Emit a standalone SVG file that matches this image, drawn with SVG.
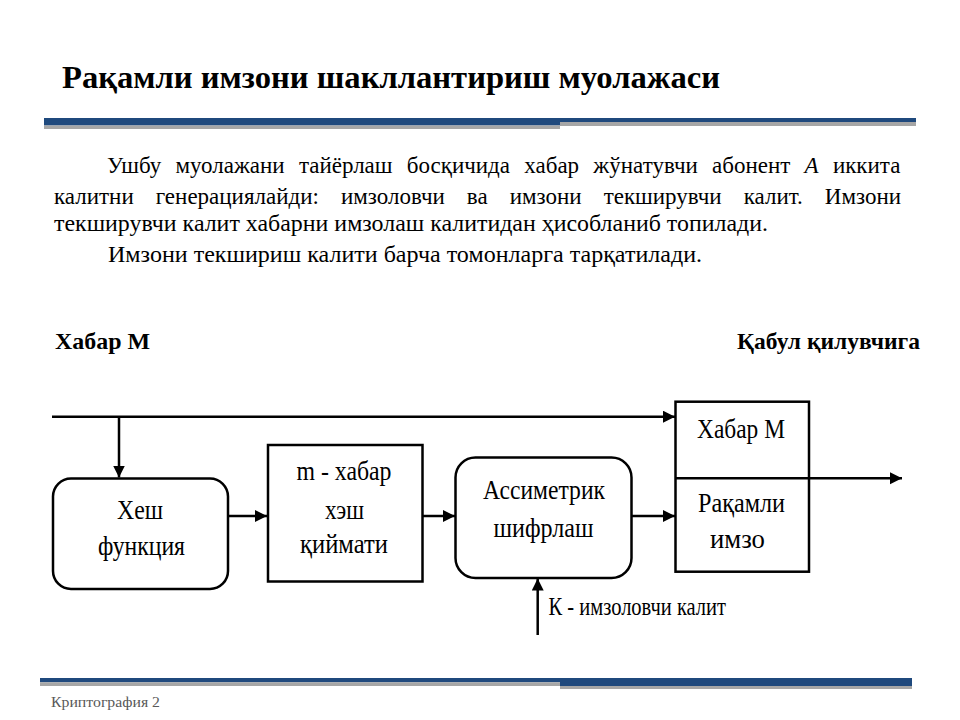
<svg xmlns="http://www.w3.org/2000/svg" width="960" height="720" viewBox="0 0 960 720" font-family="Liberation Serif, Times New Roman, DejaVu Serif, serif">
<defs>
<style>
text{font-family:'Liberation Serif','Times New Roman','DejaVu Serif',serif;fill:#000}
.b{font-weight:bold}
.p{font-size:23px}
.d{font-size:28px}
.ln{fill:none;stroke:#000;stroke-width:2.5}
.bx{fill:#fff;stroke:#000;stroke-width:2.5}
</style>
<marker id="arr" markerUnits="userSpaceOnUse" markerWidth="13" markerHeight="13" refX="12" refY="6" orient="auto">
<path d="M0,0 L12,6 L0,12 z" fill="#000"/>
</marker>
</defs>
<rect width="960" height="720" fill="#fff"/>
<g id="header">
<text class="b" x="62" y="88" font-size="32" textLength="658" lengthAdjust="spacingAndGlyphs">Рақамли имзони шакллантириш муолажаси</text>
<rect x="44" y="118" width="516" height="7.5" fill="#1F497D"/>
<rect x="44" y="125.5" width="516" height="3.5" fill="#A6A6A6"/>
<rect x="560" y="118" width="356" height="4" fill="#1F497D"/>
<rect x="560" y="122" width="356" height="4" fill="#A6A6A6"/>
</g>
<g id="paragraph">
<text class="p" x="107" y="173" word-spacing="8.5">Ушбу муолажани тайёрлаш босқичида хабар жўнатувчи абонент <tspan font-style="italic">А</tspan> иккита</text>
<text class="p" x="54" y="204" word-spacing="16.3">калитни генерациялайди: имзоловчи ва имзони текширувчи калит. Имзони</text>
<text class="p" x="54" y="231" textLength="714" lengthAdjust="spacingAndGlyphs">текширувчи калит хабарни имзолаш калитидан ҳисобланиб топилади.</text>
<text class="p" x="108" y="262" textLength="594" lengthAdjust="spacingAndGlyphs">Имзони текшириш калити барча томонларга тарқатилади.</text>
</g>
<g id="label-sender">
<text class="b" x="55" y="349" font-size="24" textLength="95" lengthAdjust="spacingAndGlyphs">Хабар М</text>
</g>
<g id="label-receiver">
<text class="b" x="920" y="349" font-size="24" text-anchor="end" textLength="183" lengthAdjust="spacingAndGlyphs">Қабул қилувчига</text>
</g>
<g id="connectors">
<path class="ln" d="M52,416.7 H675" marker-end="url(#arr)"/>
<path class="ln" d="M119,416.7 V477.5" marker-end="url(#arr)"/>
<path class="ln" d="M228,516 H267" marker-end="url(#arr)"/>
<path class="ln" d="M423,516 H455" marker-end="url(#arr)"/>
<path class="ln" d="M632,516 H675" marker-end="url(#arr)"/>
<path class="ln" d="M809,478.3 H902" marker-end="url(#arr)"/>
<path class="ln" d="M537.7,635 V578.5" marker-end="url(#arr)"/>
</g>
<g id="hash">
<rect class="bx" x="53" y="478.5" width="175" height="110.5" rx="18"/>
<text class="d" x="140" y="519" text-anchor="middle" textLength="46" lengthAdjust="spacingAndGlyphs">Хеш</text>
<text class="d" x="141.5" y="555" text-anchor="middle" textLength="87" lengthAdjust="spacingAndGlyphs">функция</text>
</g>
<g id="hashvalue">
<rect class="bx" x="268" y="445" width="154.5" height="136.5"/>
<text class="d" x="344" y="480" text-anchor="middle" textLength="95" lengthAdjust="spacingAndGlyphs">m - хабар</text>
<text class="d" x="344.5" y="519" text-anchor="middle" textLength="39" lengthAdjust="spacingAndGlyphs">хэш</text>
<text class="d" x="344" y="553" text-anchor="middle" textLength="88" lengthAdjust="spacingAndGlyphs">қиймати</text>
</g>
<g id="asym">
<rect class="bx" x="455.5" y="457.5" width="176" height="120.5" rx="20"/>
<text class="d" x="544" y="499" text-anchor="middle" textLength="122" lengthAdjust="spacingAndGlyphs">Ассиметрик</text>
<text class="d" x="543.5" y="536.5" text-anchor="middle" textLength="100" lengthAdjust="spacingAndGlyphs">шифрлаш</text>
</g>
<g id="result">
<rect class="bx" x="675.5" y="401.7" width="133.5" height="170"/>
<line class="ln" x1="675.5" y1="478.3" x2="809" y2="478.3"/>
<text class="d" x="741" y="437.5" text-anchor="middle" textLength="88" lengthAdjust="spacingAndGlyphs">Хабар М</text>
<text class="d" x="741.5" y="511.5" text-anchor="middle" textLength="87" lengthAdjust="spacingAndGlyphs">Рақамли</text>
<text class="d" x="737.5" y="548" text-anchor="middle" textLength="55" lengthAdjust="spacingAndGlyphs">имзо</text>
</g>
<g id="key-label">
<text x="548.5" y="615" font-size="25" textLength="177.5" lengthAdjust="spacingAndGlyphs">К - имзоловчи калит</text>
</g>
<g id="footer">
<rect x="40" y="678" width="520" height="4.3" fill="#1F497D"/>
<rect x="40" y="682.3" width="520" height="3.7" fill="#A6A6A6"/>
<rect x="560" y="678" width="352" height="8" fill="#1F497D"/>
<rect x="560" y="686" width="352" height="3" fill="#A6A6A6"/>
<text x="51" y="707" font-size="14" style="fill:#595959" textLength="109" lengthAdjust="spacingAndGlyphs">Криптография 2</text>
</g>
</svg>
